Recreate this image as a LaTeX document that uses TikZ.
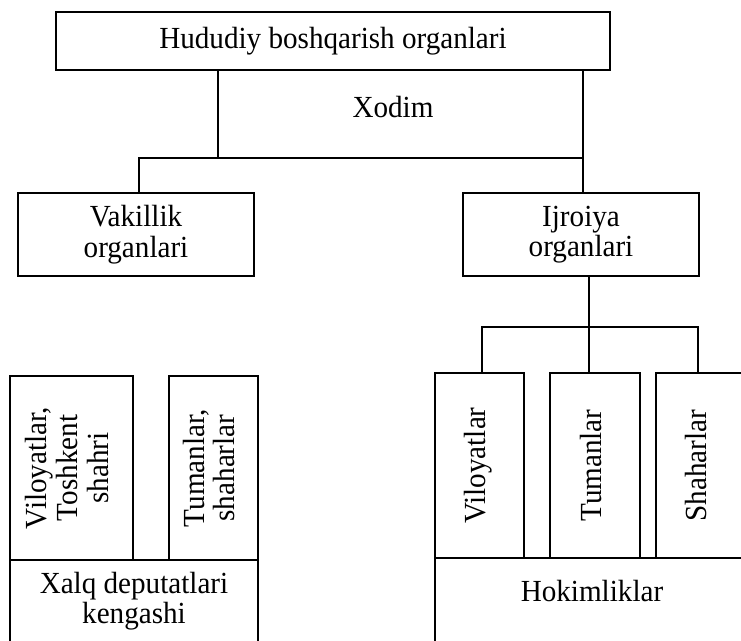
\documentclass[tikz,border=0pt]{standalone}
\usepackage{fontspec}
\setmainfont[FakeStretch=0.95]{Liberation Serif}
\usepackage{graphicx}
\newcommand{\vtxt}[1]{\rotatebox{90}{\begin{tabular}{@{}c@{}}#1\end{tabular}}}
\begin{document}
\begin{tikzpicture}[x=0.75pt,y=-0.75pt,
  every node/.style={font=\fontsize{23}{23}\selectfont, inner sep=0pt},
  box/.style={draw, line width=1.9pt, align=center},
  conn/.style={line width=1.8pt}]
\useasboundingbox (0,0) rectangle (741,640);
\clip (0,0) rectangle (741,640);
% top
\node[box, minimum width=554*0.75pt, minimum height=58*0.75pt] (top) at (333,41) {Hududiy boshqarish organlari};
\node (xodim) at (393,107) {Xodim};
\node[box, minimum width=236*0.75pt, minimum height=83*0.75pt] (vak) at (136,234.5) {Vakillik\\organlari};
\node[box, minimum width=236*0.75pt, minimum height=83*0.75pt] (ijr) at (581,234.5) {Ijroiya\\organlari};
% left lower
\node[box, minimum width=123*0.75pt, minimum height=184*0.75pt] (vt) at (71.5,468) {\vtxt{Viloyatlar,\\Toshkent\\shahri}};
\node[box, minimum width=89*0.75pt, minimum height=184*0.75pt] (tsh) at (213.5,468) {\vtxt{Tumanlar,\\shaharlar}};
\node[box, minimum width=248*0.75pt, minimum height=140*0.75pt] (xalq) at (134,630) {};
\node[align=center] (xalqt) at (134,601) {Xalq deputatlari\\kengashi};
% right lower
\node[box, minimum width=89*0.75pt, minimum height=185*0.75pt] (vil) at (479.5,465.5) {\vtxt{Viloyatlar}};
\node[box, minimum width=90*0.75pt, minimum height=185*0.75pt] (tum) at (595,465.5) {\vtxt{Tumanlar}};
\node[box, minimum width=89*0.75pt, minimum height=185*0.75pt] (sha) at (700.5,465.5) {\vtxt{Shaharlar}};
\node[box, minimum width=325*0.75pt, minimum height=142*0.75pt] (hok) at (597.5,629) {};
\node (hokt) at (592,591) {Hokimliklar};
% connectors
\coordinate (hL) at (139,158);
\coordinate (hM) at (218,158);
\coordinate (hR) at (583,158);
\draw[conn] (top.south -| hM) -- (hM);
\draw[conn] (vak.north -| hL) -- (hL) -- (hR);
\draw[conn] (top.south -| hR) -- (ijr.north -| hR);
\coordinate (bL) at (482,327);
\coordinate (bM) at (589,327);
\coordinate (bR) at (698,327);
\draw[conn] (ijr.south -| bM) -- (tum.north -| bM);
\draw[conn] (vil.north -| bL) -- (bL) -- (bR) -- (sha.north -| bR);
\end{tikzpicture}
\end{document}
